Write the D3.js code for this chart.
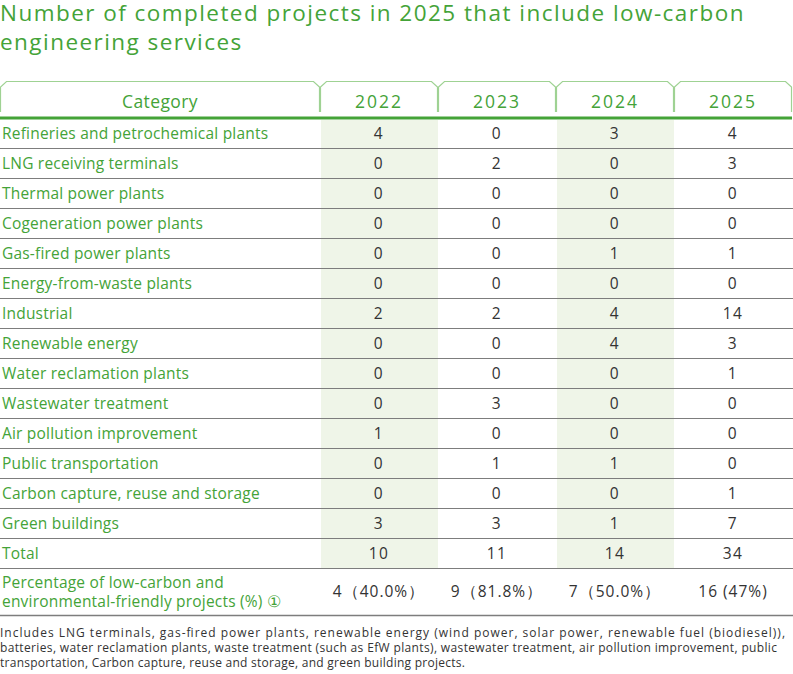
<!DOCTYPE html>
<html>
<head>
<meta charset="utf-8">
<script src="https://cdn.jsdelivr.net/npm/d3@7"></script>
<style>
  html, body { margin: 0; padding: 0; background: #fff; }
  svg { display: block; font-family: "Open Sans", "Noto Sans", sans-serif; }
</style>
</head>
<body>
<svg width="793" height="674"></svg>
<script>
const titleLines = [
  "Number of completed projects in 2025 that include low-carbon",
  "engineering services"
];

const years = ["2022", "2023", "2024", "2025"];

const categories = [
  "Refineries and petrochemical plants",
  "LNG receiving terminals",
  "Thermal power plants",
  "Cogeneration power plants",
  "Gas-fired power plants",
  "Energy-from-waste plants",
  "Industrial",
  "Renewable energy",
  "Water reclamation plants",
  "Wastewater treatment",
  "Air pollution improvement",
  "Public transportation",
  "Carbon capture, reuse and storage",
  "Green buildings"
];

const values2022 = [4, 0, 0, 0, 0, 0, 2, 0, 0, 0, 1, 0, 0, 3];
const values2023 = [0, 2, 0, 0, 0, 0, 2, 0, 0, 3, 0, 1, 0, 3];
const values2024 = [3, 0, 0, 0, 1, 0, 4, 4, 0, 0, 0, 1, 0, 1];
const values2025 = [4, 3, 0, 0, 1, 0, 14, 3, 1, 0, 0, 0, 1, 7];

const totals = [10, 11, 14, 34];
const percentLabels = ["4（40.0%）", "9（81.8%）", "7（50.0%）", "16 (47%)"];
const percentRowLabel = ["Percentage of low-carbon and", "environmental-friendly projects (%) \u2460"];

const footnoteLines = [
  "Includes LNG terminals, gas-fired power plants, renewable energy (wind power, solar power, renewable fuel (biodiesel)),",
  "batteries, water reclamation plants, waste treatment (such as EfW plants), wastewater treatment, air pollution improvement, public",
  "transportation, Carbon capture, reuse and storage, and green building projects."
];

const green = "#44a338";
const tabGreen = "#9fd293";
const shade = "#eff5e8";
const lineGray = "#7d7d7d";
const ink = "#333";

const svg = d3.select("svg");
const width = +svg.attr("width");

// columns
const catRight = 320;
const x = d3.scaleBand().domain(years).range([catRight, 792]);

// rows: data rows + total row, each 30px
const rowKeys = categories.concat(["Total"]);
const y = d3.scaleBand().domain(rowKeys).range([118, 568]);
const pctTop = 568, pctBottom = 615;

const valuesByYear = [values2022, values2023, values2024, values2025];
const rows = rowKeys.map((c, i) => ({
  label: c,
  vals: i < categories.length ? valuesByYear.map(v => v[i]) : totals
}));

// title
svg.append("g").selectAll("text")
  .data(titleLines)
  .join("text")
  .attr("x", 0)
  .attr("y", (d, i) => 21 + i * 28.5)
  .attr("fill", green)
  .attr("font-size", 22.5)
  .attr("font-weight", 500)
  .attr("letter-spacing", 1.45)
  .text(d => d);

// header tabs
const headerCols = [{ name: "Category", x0: 0, x1: catRight }]
  .concat(years.map(yr => ({ name: yr, x0: x(yr), x1: x(yr) + x.bandwidth() })));

const header = svg.append("g");
header.selectAll("path")
  .data(headerCols)
  .join("path")
  .attr("d", d => {
    const a = d.x0 + 0.5, b = d.x1 - 0.5;
    return `M${a},112 L${a},87 L${a + 6},81.5 L${b - 6},81.5 L${b},87 L${b},112`;
  })
  .attr("fill", "none")
  .attr("stroke", tabGreen)
  .attr("stroke-width", 1.2);

header.selectAll("text")
  .data(headerCols)
  .join("text")
  .attr("x", d => (d.x0 + d.x1) / 2)
  .attr("y", 108)
  .attr("text-anchor", "middle")
  .attr("fill", green)
  .attr("font-size", 17.5)
  .attr("letter-spacing", d => d.name === "Category" ? 0.4 : 2)
  .text(d => d.name);

// shaded columns (2022, 2024)
const shaded = ["2022", "2024"];
svg.append("g").selectAll("rect")
  .data(shaded)
  .join("rect")
  .attr("x", d => x(d) + 1)
  .attr("y", 120)
  .attr("width", x.bandwidth() - 1)
  .attr("height", y("Total") + y.bandwidth() - 120)
  .attr("fill", shade);

// row separators
const sepYs = rowKeys.slice(1).map(k => y(k)).concat([pctTop, pctBottom]);
svg.append("g").selectAll("line")
  .data(sepYs)
  .join("line")
  .attr("x1", 0)
  .attr("x2", width)
  .attr("y1", d => d + 0.5)
  .attr("y2", d => d + 0.5)
  .attr("stroke", lineGray)
  .attr("stroke-width", d => d === pctBottom ? 1.5 : 1);

// thick header rule
svg.append("line")
  .attr("x1", 0).attr("x2", 792)
  .attr("y1", 118).attr("y2", 118)
  .attr("stroke", green)
  .attr("stroke-width", 3);

// body rows
const rowG = svg.append("g").selectAll("g")
  .data(rows)
  .join("g")
  .attr("transform", d => `translate(0,${y(d.label) + y.bandwidth() / 2})`);

rowG.append("text")
  .attr("x", 2)
  .attr("dy", "0.36em")
  .attr("fill", green)
  .attr("font-size", 15.5)
  .attr("letter-spacing", 0.2)
  .text(d => d.label);

rowG.selectAll(".val")
  .data(d => d.vals.map((v, j) => ({ v, yr: years[j] })))
  .join("text")
  .attr("class", "val")
  .attr("x", d => x(d.yr) + x.bandwidth() / 2)
  .attr("dy", "0.36em")
  .attr("text-anchor", "middle")
  .attr("fill", ink)
  .attr("font-size", 15.5)
  .attr("letter-spacing", 1.5)
  .text(d => d.v);

// percentage row
const pctMid = (pctTop + pctBottom) / 2;
svg.append("g").selectAll("text")
  .data(percentRowLabel)
  .join("text")
  .attr("x", 2)
  .attr("y", (d, i) => pctMid - 9 + i * 19)
  .attr("dy", "0.36em")
  .attr("fill", green)
  .attr("font-size", 15.5)
  .attr("letter-spacing", 0.2)
  .text(d => d);

svg.append("g").selectAll("text")
  .data(percentLabels)
  .join("text")
  .attr("x", (d, i) => x(years[i]) + x.bandwidth() / 2)
  .attr("y", pctMid)
  .attr("dy", "0.36em")
  .attr("text-anchor", "middle")
  .attr("fill", ink)
  .attr("font-size", 15.5)
  .attr("letter-spacing", 1)
  .text(d => d);

// footnote: each line spread to the width it takes in the layout
const footWidths = [785, 777, 465];
svg.append("g").selectAll("text")
  .data(footnoteLines)
  .join("text")
  .attr("x", 0)
  .attr("y", (d, i) => 637 + i * 15)
  .attr("fill", ink)
  .attr("font-size", 12)
  .attr("textLength", (d, i) => footWidths[i])
  .attr("lengthAdjust", "spacing")
  .text(d => d);
</script>
</body>
</html>
